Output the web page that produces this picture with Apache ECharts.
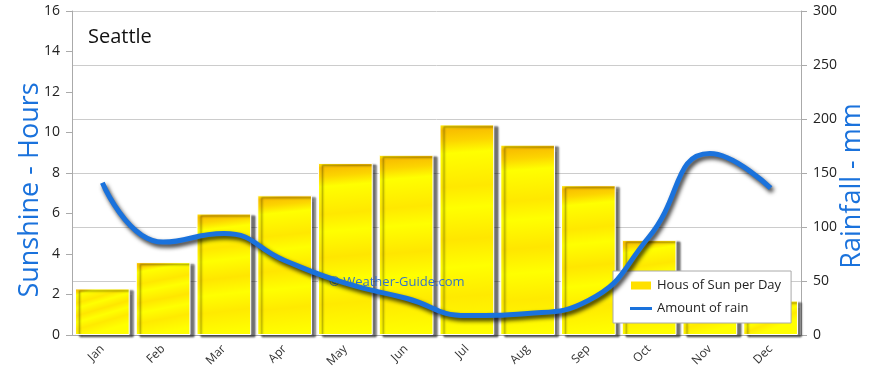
<!DOCTYPE html>
<html>
<head>
<meta charset="utf-8">
<title>Seattle sunshine and rainfall</title>
<script src="https://cdn.jsdelivr.net/npm/echarts@6/dist/echarts.min.js"></script>
<style>
  html, body { margin: 0; padding: 0; background: #fff; }
  #chart { width: 870px; height: 377px; }
</style>
</head>
<body>
<div id="chart"></div>
<script>
  // data
  var months = ['Jan', 'Feb', 'Mar', 'Apr', 'May', 'Jun', 'Jul', 'Aug', 'Sep', 'Oct', 'Nov', 'Dec'];
  var sunHours = [2.3, 3.6, 6.0, 6.9, 8.5, 8.9, 10.4, 9.4, 7.4, 4.7, 2.6, 1.7];
  var rainMm = [141, 86, 94, 69, 48, 34, 18, 20, 32, 91, 168, 136];
  var hourTicks = [0, 2, 4, 6, 8, 10, 12, 14, 16];
  var rainTicks = [0, 50, 100, 150, 200, 250, 300];

  var font = 'Open Sans';
  var blue = '#1a72dc';

  // yellow bar fill with light orange streaks, strongest near the top
  var barFill = new echarts.graphic.LinearGradient(0, 0, 0.25, 1, [
    { offset: 0, color: '#fff000' },
    { offset: 0.03, color: '#f8be00' },
    { offset: 0.08, color: '#fcd400' },
    { offset: 0.14, color: '#ffff00' },
    { offset: 0.3, color: '#ffe800' },
    { offset: 0.4, color: '#ffff00' },
    { offset: 0.55, color: '#ffe600' },
    { offset: 0.68, color: '#ffff00' },
    { offset: 0.82, color: '#ffea00' },
    { offset: 1, color: '#ffff00' }
  ]);

  // thin bar for the rain legend entry (the extra moves keep the box 22x10)
  var lineIcon = 'path://M0,0M0,3.5L22,3.5L22,6.5L0,6.5ZM22,10';

  var chart = echarts.init(document.getElementById('chart'));
  chart.setOption({
    animation: false,
    textStyle: { fontFamily: font },
    grid: { left: 72, right: 69, top: 11, bottom: 42 },
    graphic: [
      { type: 'text', left: 88, top: 27, style: { text: 'Seattle', font: '20px ' + font, fill: '#111' } },
      {
        type: 'text', x: 30, y: 190, rotation: Math.PI / 2,
        style: { text: 'Sunshine - Hours', font: '27px ' + font, fill: blue, align: 'center', verticalAlign: 'middle' }
      },
      {
        type: 'text', x: 852, y: 186, rotation: Math.PI / 2,
        style: { text: 'Rainfall - mm', font: '27px ' + font, fill: blue, align: 'center', verticalAlign: 'middle' }
      },
      {
        type: 'text', left: 329, top: 276, z: 3,
        style: { text: '\u00a9 Weather-Guide.com', font: '13px ' + font, fill: 'rgba(30,100,220,0.9)' }
      }
    ],
    legend: {
      orient: 'vertical',
      left: 613,
      top: 271,
      backgroundColor: '#fff',
      borderColor: '#aaa',
      borderWidth: 1,
      padding: [8, 10, 8, 16],
      itemGap: 10,
      itemWidth: 22,
      itemHeight: 10,
      textStyle: { fontSize: 13, color: '#222', fontFamily: font },
      data: [
        { name: 'Hous of Sun per Day', icon: 'rect', itemStyle: { color: '#ffe000' } },
        { name: 'Amount of rain', icon: lineIcon, itemStyle: { color: blue } }
      ]
    },
    xAxis: {
      type: 'category',
      data: months,
      axisLine: { lineStyle: { color: '#aaa' } },
      axisTick: { length: 6, lineStyle: { color: '#aaa' } },
      axisLabel: { rotate: 45, fontSize: 12, color: '#333', margin: 12 }
    },
    yAxis: [
      {
        type: 'value',
        min: hourTicks[0],
        max: hourTicks[hourTicks.length - 1],
        interval: 2,
        axisLine: { show: true, lineStyle: { color: '#aaa' } },
        axisTick: { show: true, length: 6, lineStyle: { color: '#aaa' } },
        axisLabel: { fontSize: 14, color: '#222', margin: 12 },
        splitLine: { show: false }
      },
      {
        type: 'value',
        min: rainTicks[0],
        max: rainTicks[rainTicks.length - 1],
        interval: 50,
        position: 'right',
        axisLine: { show: true, lineStyle: { color: '#aaa' } },
        axisTick: { show: true, length: 6, lineStyle: { color: '#aaa' } },
        axisLabel: { fontSize: 14, color: '#222', margin: 12 },
        splitLine: { show: true, lineStyle: { color: '#ccc' } }
      }
    ],
    series: [
      {
        name: 'Hous of Sun per Day',
        type: 'bar',
        yAxisIndex: 0,
        data: sunHours,
        barCategoryGap: '10%',
        itemStyle: {
          color: barFill,
          borderColor: '#fff',
          borderWidth: 1,
          shadowColor: 'rgba(0,0,0,0.55)',
          shadowOffsetX: 4,
          shadowOffsetY: 2,
          shadowBlur: 2
        }
      },
      {
        name: 'Amount of rain',
        type: 'line',
        yAxisIndex: 1,
        data: rainMm,
        smooth: 0.5,
        symbol: 'none',
        z: 5,
        lineStyle: {
          color: blue,
          width: 5,
          shadowColor: 'rgba(0,0,0,0.8)',
          shadowOffsetX: 2,
          shadowOffsetY: 3,
          shadowBlur: 4
        },
        itemStyle: { color: blue }
      }
    ]
  });
</script>
</body>
</html>
